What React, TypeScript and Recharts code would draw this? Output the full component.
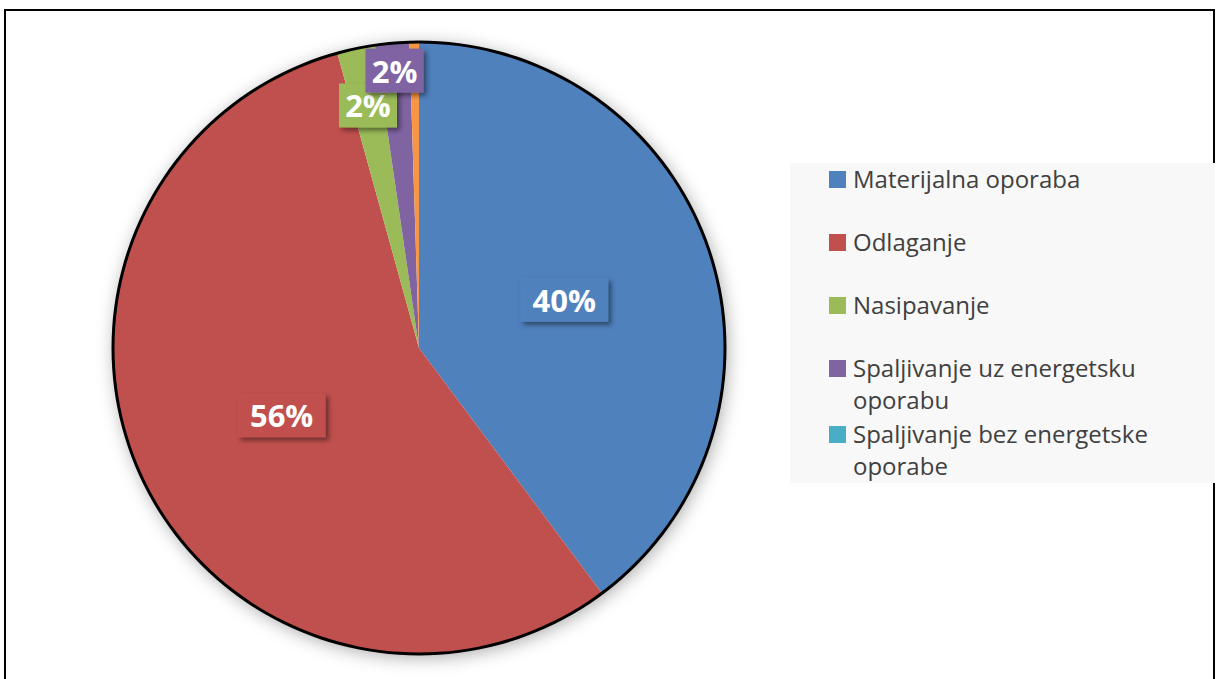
import React from 'react';
import { PieChart, Pie, Cell, Legend } from 'recharts';

// share of each treatment route (%)
const categories = [
  'Materijalna oporaba',
  'Odlaganje',
  'Nasipavanje',
  'Spaljivanje uz energetsku oporabu',
  'Spaljivanje bez energetske oporabe',
  'Ostalo',
];
const shares = [39.8, 55.9, 2.0, 1.8, 0.0, 0.5];
const colors = ['#4f81bd', '#c0504d', '#9bbb59', '#8064a2', '#4bacc6', '#f79646'];
// the legend box only has room for the first five entries
const legendCount = 5;

const chartData = categories.map((name, i) => ({ name, value: shares[i] }));
const outline = [{ name: 'total', value: shares.reduce((a, b) => a + b, 0) }];

const FONT = '"Open Sans", Lato, sans-serif';

const RAD = Math.PI / 180;

const renderLabel = (props: any) => {
  const { cx, cy, midAngle, outerRadius, percent, index } = props;
  if (percent < 0.01) return null;
  // big slices get the label halfway out, the thin ones near the rim
  const factor = percent > 0.05 ? 0.5 : index === 2 ? 0.81 : 0.91;
  const r = outerRadius * factor;
  const x = cx + r * Math.cos(-midAngle * RAD);
  const y = cy + r * Math.sin(-midAngle * RAD);
  const text = `${Math.round(percent * 100)}%`;
  const w = 30 * text.length - 2;
  const h = 44;
  return (
    <g>
      <rect
        x={x - w / 2}
        y={y - h / 2}
        width={w}
        height={h}
        fill={colors[index]}
        filter="url(#labelShadow)"
      />
      <text
        x={x}
        y={y}
        fill="#ffffff"
        fontFamily={FONT}
        fontWeight={700}
        fontSize={31}
        textAnchor="middle"
        dominantBaseline="central"
      >
        {text}
      </text>
    </g>
  );
};

const renderLegend = () => (
  <div
    style={{
      width: 425,
      height: 320,
      background: '#f8f8f8',
      overflow: 'hidden',
      boxSizing: 'border-box',
      paddingTop: 0,
      paddingLeft: 39,
      fontFamily: FONT,
      fontSize: 24,
      color: '#404040',
    }}
  >
    {categories.slice(0, legendCount).map((name, i) => (
      <div
        key={name}
        style={{
          display: 'flex',
          alignItems: 'flex-start',
          lineHeight: '32px',
          marginBottom: i < 3 ? 31 : 2,
        }}
      >
        <span
          style={{
            display: 'inline-block',
            width: 17,
            height: 17,
            background: colors[i],
            marginTop: 8,
            marginRight: 7,
            flexShrink: 0,
          }}
        />
        <span style={{ width: 340 }}>{name}</span>
      </div>
    ))}
  </div>
);

const App: React.FC = () => {
  return (
    <div style={{ position: 'absolute', left: 0, top: 0, width: 1219, height: 679, background: '#ffffff', overflow: 'hidden' }}>
      {/* outer frame */}
      <div
        style={{
          position: 'absolute',
          left: 4,
          top: 9,
          width: 1211,
          height: 680,
          border: '2px solid #000',
          boxSizing: 'border-box',
        }}
      />
      <PieChart
        width={1219}
        height={679}
        margin={{ top: 0, right: 0, bottom: 0, left: 0 }}
        style={{ position: 'absolute', left: 0, top: 0 }}
      >
        <defs>
          <filter id="pieGlow" x="-20%" y="-20%" width="140%" height="140%">
            <feDropShadow dx="2" dy="3" stdDeviation="9" floodColor="#000" floodOpacity="0.35" />
          </filter>
          <filter id="labelShadow" x="-30%" y="-30%" width="160%" height="160%">
            <feDropShadow dx="3" dy="3" stdDeviation="2.5" floodColor="#000" floodOpacity="0.45" />
          </filter>
        </defs>
        {/* soft shadow behind the disc */}
        <Pie
          data={outline}
          dataKey="value"
          cx={419}
          cy={348}
          outerRadius={306}
          startAngle={90}
          endAngle={-270}
          fill="#ffffff"
          stroke="none"
          filter="url(#pieGlow)"
          isAnimationActive={false}
          legendType="none"
        />
        <Pie
          data={chartData}
          dataKey="value"
          nameKey="name"
          cx={419}
          cy={348}
          outerRadius={306}
          startAngle={90}
          endAngle={-270}
          stroke="none"
          label={renderLabel}
          labelLine={false}
          isAnimationActive={false}
        >
          {chartData.map((d, i) => (
            <Cell key={d.name} fill={colors[i]} />
          ))}
        </Pie>
        {/* black rim as a thin ring */}
        <Pie
          data={outline}
          dataKey="value"
          cx={419}
          cy={348}
          innerRadius={304.5}
          outerRadius={307.5}
          startAngle={90}
          endAngle={-270}
          fill="#000"
          stroke="none"
          isAnimationActive={false}
          legendType="none"
        />
        <Legend
          content={renderLegend}
          layout="vertical"
          wrapperStyle={{ position: 'absolute', left: 790, top: 163, width: 425, height: 320 }}
        />
      </PieChart>
    </div>
  );
};

export default App;
